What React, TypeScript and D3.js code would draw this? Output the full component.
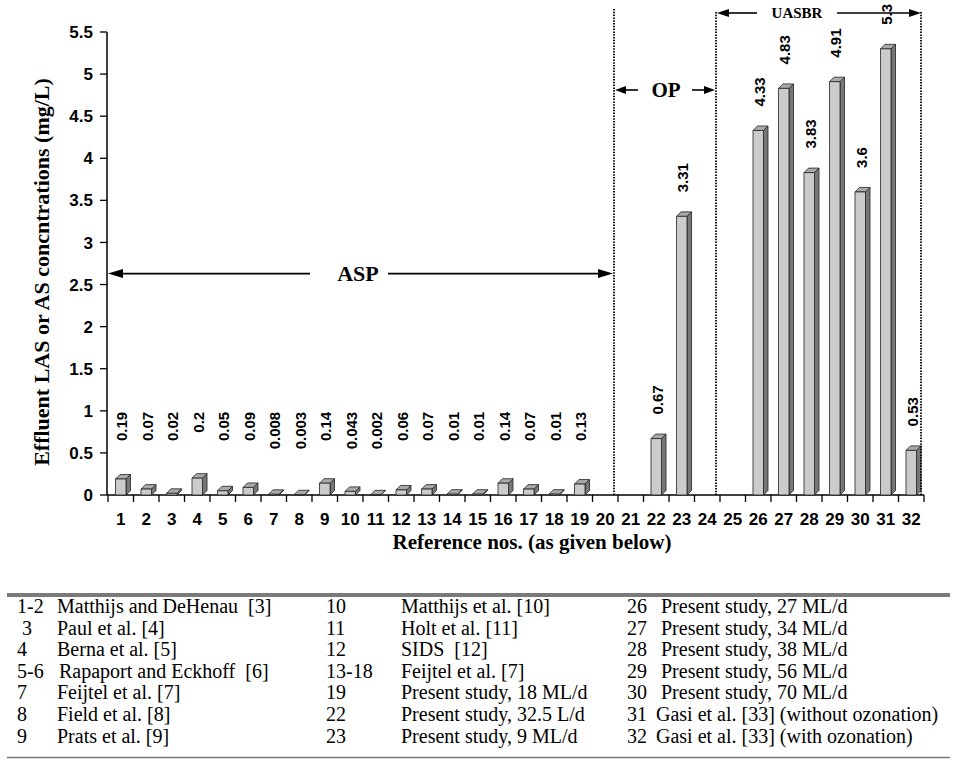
import React from "react";
import * as d3 from "d3";

const categories = ["1","2","3","4","5","6","7","8","9","10","11","12","13","14","15","16","17","18","19","20","21","22","23","24","25","26","27","28","29","30","31","32"];
const values: (number | null)[] = [0.19,0.07,0.02,0.2,0.05,0.09,0.008,0.003,0.14,0.043,0.002,0.06,0.07,0.01,0.01,0.14,0.07,0.01,0.13,null,null,0.67,3.31,null,null,4.33,4.83,3.83,4.91,3.6,5.3,0.53];
const valueLabels = ["0.19","0.07","0.02","0.2","0.05","0.09","0.008","0.003","0.14","0.043","0.002","0.06","0.07","0.01","0.01","0.14","0.07","0.01","0.13","","","0.67","3.31","","","4.33","4.83","3.83","4.91","3.6","5.3","0.53"];
const yTicks = [0,0.5,1,1.5,2,2.5,3,3.5,4,4.5,5,5.5];
const yTickLabels = ["0","0.5","1","1.5","2","2.5","3","3.5","4","4.5","5","5.5"];

const tableNums1 = ["1-2"," 3","4","5-6","7","8","9"];
const tableNames1 = ["Matthijs and DeHenau  [3]","Paul et al. [4]","Berna et al. [5]","Rapaport and Eckhoff  [6]","Feijtel et al. [7]","Field et al. [8]","Prats et al. [9]"];
const tableNums2 = ["10","11","12","13-18","19","22","23"];
const tableNames2 = ["Matthijs et al. [10]","Holt et al. [11]","SIDS  [12]","Feijtel et al. [7]","Present study, 18 ML/d","Present study, 32.5 L/d","Present study, 9 ML/d"];
const tableNums3 = ["26","27","28","29","30","31","32"];
const tableNames3 = ["Present study, 27 ML/d","Present study, 34 ML/d","Present study, 38 ML/d","Present study, 56 ML/d","Present study, 70 ML/d","Gasi et al. [33] (without ozonation)","Gasi et al. [33] (with ozonation)"];

const SANS = "'Liberation Sans', Arial, sans-serif";
const SERIF = "'Liberation Serif', 'Times New Roman', serif";

export default function App() {
  const W = 957, H = 761;
  const x = d3.scaleBand<string>().domain(categories).range([108, 924]).padding(0);
  const y = d3.scaleLinear().domain([0, 5.5]).range([495, 32]);
  const bw = x.bandwidth();
  const y0 = y(0);
  const depth = 4.5;
  const frontW = 10.5;

  const arrow = (xa: number, xb: number, yy: number, t1: number, t2: number, head: number, hh: number, key: string) => (
    <g key={key}>
      <line x1={xa + head} x2={t1} y1={yy} y2={yy} stroke="#000" strokeWidth={1.6} />
      <line x1={t2} x2={xb - head} y1={yy} y2={yy} stroke="#000" strokeWidth={1.6} />
      <path d={`M${xa},${yy} L${xa + head},${yy - hh} L${xa + head},${yy + hh} Z`} fill="#000" />
      <path d={`M${xb},${yy} L${xb - head},${yy - hh} L${xb - head},${yy + hh} Z`} fill="#000" />
    </g>
  );

  const div1 = (x("21") as number) - 4;
  const div2 = (x("25") as number) - 4;
  const div3 = (x("32") as number) + bw - 3;

  const rowY = (i: number) => 613 + i * 21.6;

  return (
    <svg width={W} height={H} style={{ position: "absolute", left: 0, top: 0, background: "#fff" }}>
      <rect width={W} height={H} fill="#fff" />
      {/* y axis */}
      <line x1={107} x2={107} y1={y(5.5)} y2={y0} stroke="#000" strokeWidth={1.5} />
      {yTicks.map((t, i) => (
        <g key={"yt" + i}>
          <line x1={100} x2={107} y1={y(t)} y2={y(t)} stroke="#000" strokeWidth={1.3} />
          <text x={93} y={y(t)} dy="0.36em" textAnchor="end" fontFamily={SANS} fontWeight="bold" fontSize={17}>{yTickLabels[i]}</text>
        </g>
      ))}
      {/* x axis */}
      <line x1={107} x2={924} y1={y0} y2={y0} stroke="#000" strokeWidth={1.5} />
      {categories.map((c, i) => (
        <line key={"xt" + i} x1={x(c) as number} x2={x(c) as number} y1={y0} y2={y0 + 7} stroke="#000" strokeWidth={1.3} />
      ))}
      <line x1={924} x2={924} y1={y0} y2={y0 + 7} stroke="#000" strokeWidth={1.3} />
      {categories.map((c) => (
        <text key={"xl" + c} x={(x(c) as number) + bw / 2} y={525} textAnchor="middle" fontFamily={SANS} fontWeight="bold" fontSize={17}>{c}</text>
      ))}
      {/* bars */}
      {categories.map((c, i) => {
        const v = values[i];
        if (v === null) return null;
        const cx = (x(c) as number) + bw / 2;
        const x0 = cx - frontW / 2;
        const x1 = x0 + frontW;
        const yt = y(v);
        return (
          <g key={"b" + c} stroke="#222" strokeWidth={0.8} strokeLinejoin="round">
            <path d={`M${x1},${yt} L${x1 + depth},${yt - depth} L${x1 + depth},${y0 - depth} L${x1},${y0} Z`} fill="#777" />
            <path d={`M${x0},${yt} L${x0 + depth},${yt - depth} L${x1 + depth},${yt - depth} L${x1},${yt} Z`} fill="#a9a9a9" />
            <rect x={x0} y={yt} width={frontW} height={y0 - yt} fill="#cbcbcb" />
          </g>
        );
      })}
      {/* value labels */}
      {categories.map((c, i) => {
        const v = values[i];
        if (v === null) return null;
        const cx = (x(c) as number) + bw / 2 + 1;
        const small = i < 20;
        const ly = small ? y(1) + 1 : y(v) - 24;
        return (
          <text key={"vl" + c} transform={`translate(${cx},${ly}) rotate(-90)`} dy="0.36em" textAnchor={small ? "end" : "start"} fontFamily={SANS} fontWeight="bold" fontSize={15}>{valueLabels[i]}</text>
        );
      })}
      {/* dividers */}
      <line x1={div1} x2={div1} y1={9} y2={y0} stroke="#000" strokeWidth={1.8} strokeDasharray="1.5,1.3" />
      <line x1={div2} x2={div2} y1={12} y2={y0} stroke="#000" strokeWidth={1.8} strokeDasharray="1.5,1.3" />
      <line x1={div3} x2={div3} y1={12} y2={y0} stroke="#000" strokeWidth={1.8} strokeDasharray="1.5,1.3" />
      {/* region arrows */}
      {arrow(108, div1 - 1, y(2.63), 310, 388, 15, 4.5, "asp")}
      <text x={358} y={y(2.63)} dy="0.35em" textAnchor="middle" fontFamily={SERIF} fontWeight="bold" fontSize={22}>ASP</text>
      {arrow(div1 + 1, div2 - 1, 90, 638, 692, 11, 4, "op")}
      <text x={666} y={90} dy="0.35em" textAnchor="middle" fontFamily={SERIF} fontWeight="bold" fontSize={21}>OP</text>
      {arrow(div2 + 1, div3, 13, 757, 837, 12, 4, "uasbr")}
      <text x={797} y={13} dy="0.35em" textAnchor="middle" fontFamily={SERIF} fontWeight="bold" fontSize={15}>UASBR</text>
      {/* axis titles */}
      <text transform={`translate(41,272) rotate(-90)`} dy="0.35em" textAnchor="middle" fontFamily={SERIF} fontWeight="bold" fontSize={22}>Effluent LAS or AS concntrations (mg/L)</text>
      <text x={532} y={549} textAnchor="middle" fontFamily={SERIF} fontWeight="bold" fontSize={21}>Reference nos. (as given below)</text>
      {/* table */}
      <line x1={7} x2={950} y1={595} y2={595} stroke="#7a7a7a" strokeWidth={4} />
      <line x1={7} x2={950} y1={757.5} y2={757.5} stroke="#7a7a7a" strokeWidth={1.5} />
      <g fontFamily={SERIF} fontSize={20}>
        {tableNums1.map((n, i) => <text key={"n1" + i} xmlSpace="preserve" x={17} y={rowY(i)}>{n}</text>)}
        {tableNames1.map((n, i) => <text key={"t1" + i} xmlSpace="preserve" x={i === 3 ? 59 : 57} y={rowY(i)}>{n}</text>)}
        {tableNums2.map((n, i) => <text key={"n2" + i} x={326} y={rowY(i)}>{n}</text>)}
        {tableNames2.map((n, i) => <text key={"t2" + i} xmlSpace="preserve" x={401} y={rowY(i)}>{n}</text>)}
        {tableNums3.map((n, i) => <text key={"n3" + i} x={627} y={rowY(i)}>{n}</text>)}
        {tableNames3.map((n, i) => <text key={"t3" + i} x={i >= 5 ? 656 : 661} y={rowY(i)}>{n}</text>)}
      </g>
    </svg>
  );
}
